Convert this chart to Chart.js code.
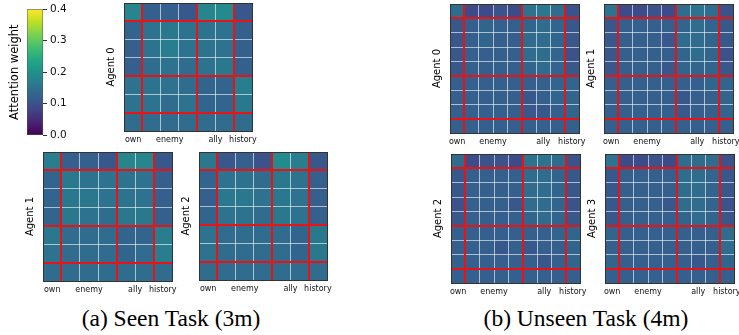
<!DOCTYPE html>
<html>
<head>
<meta charset="utf-8">
<script src="https://cdn.jsdelivr.net/npm/chart.js@4.4.1/dist/chart.umd.min.js"></script>
<style>
  html, body { margin: 0; padding: 0; background: #fff; overflow: hidden; }
  #fig { position: relative; width: 739px; height: 335px; overflow: hidden; }
  #fig canvas { position: absolute; }
  .cap {
    position: absolute; top: 305px; white-space: nowrap; color: #000;
    font-family: 'Liberation Serif', 'Times New Roman', serif; font-size: 23.5px; line-height: 26px;
    transform: translateX(-50%);
  }
</style>
</head>
<body>
<div id="fig">
  <div class="cap" style="left:171px">(a) Seen Task (3m)</div>
  <div class="cap" style="left:586px">(b) Unseen Task (4m)</div>
</div>
<script>
// token groups along both axes of each attention map
const groupLabels = ['own', 'enemy', 'ally', 'history'];
const seenGroupSizes = [1, 3, 2, 1];
const unseenGroupSizes = [1, 4, 3, 1];
const cbarTicks = [0.0, 0.1, 0.2, 0.3, 0.4];

// seen task (3m), 7x7 attention weights, row 0 at top
const seenAgent0 = [
  [0.18, 0.12, 0.12, 0.11, 0.18, 0.19, 0.11],
  [0.13, 0.15, 0.16, 0.15, 0.15, 0.15, 0.12],
  [0.12, 0.15, 0.17, 0.15, 0.15, 0.15, 0.12],
  [0.12, 0.14, 0.15, 0.14, 0.15, 0.16, 0.12],
  [0.15, 0.15, 0.15, 0.14, 0.13, 0.13, 0.17],
  [0.15, 0.15, 0.14, 0.15, 0.13, 0.13, 0.16],
  [0.14, 0.14, 0.14, 0.14, 0.14, 0.14, 0.14]
];
const seenAgent1 = [
  [0.17, 0.12, 0.12, 0.11, 0.18, 0.18, 0.11],
  [0.13, 0.16, 0.15, 0.15, 0.15, 0.15, 0.12],
  [0.13, 0.16, 0.16, 0.15, 0.15, 0.15, 0.12],
  [0.13, 0.16, 0.15, 0.14, 0.16, 0.16, 0.12],
  [0.16, 0.14, 0.14, 0.14, 0.13, 0.13, 0.17],
  [0.15, 0.14, 0.14, 0.14, 0.13, 0.14, 0.17],
  [0.14, 0.14, 0.14, 0.14, 0.14, 0.14, 0.14]
];
const seenAgent2 = [
  [0.16, 0.11, 0.12, 0.10, 0.19, 0.17, 0.11],
  [0.13, 0.15, 0.15, 0.14, 0.16, 0.15, 0.12],
  [0.12, 0.16, 0.16, 0.15, 0.16, 0.15, 0.12],
  [0.13, 0.15, 0.15, 0.14, 0.16, 0.15, 0.12],
  [0.15, 0.14, 0.14, 0.14, 0.14, 0.13, 0.16],
  [0.15, 0.14, 0.14, 0.14, 0.14, 0.13, 0.16],
  [0.14, 0.14, 0.14, 0.14, 0.14, 0.14, 0.14]
];

// unseen task (4m), 9x9
const unseenAgent0 = [
  [0.14, 0.09, 0.09, 0.10, 0.09, 0.15, 0.16, 0.14, 0.10],
  [0.11, 0.12, 0.13, 0.12, 0.12, 0.13, 0.14, 0.13, 0.11],
  [0.11, 0.12, 0.13, 0.12, 0.12, 0.14, 0.14, 0.13, 0.11],
  [0.11, 0.12, 0.12, 0.12, 0.12, 0.14, 0.14, 0.13, 0.10],
  [0.11, 0.12, 0.12, 0.12, 0.12, 0.13, 0.14, 0.13, 0.11],
  [0.12, 0.12, 0.12, 0.12, 0.12, 0.12, 0.12, 0.13, 0.13],
  [0.12, 0.12, 0.12, 0.12, 0.12, 0.11, 0.12, 0.13, 0.13],
  [0.12, 0.12, 0.12, 0.12, 0.12, 0.11, 0.11, 0.12, 0.13],
  [0.12, 0.12, 0.12, 0.12, 0.12, 0.12, 0.12, 0.12, 0.12]
];
const unseenAgent1 = [
  [0.15, 0.09, 0.09, 0.10, 0.09, 0.14, 0.15, 0.14, 0.10],
  [0.11, 0.12, 0.12, 0.12, 0.12, 0.13, 0.14, 0.13, 0.11],
  [0.11, 0.12, 0.12, 0.12, 0.11, 0.14, 0.14, 0.13, 0.11],
  [0.11, 0.12, 0.12, 0.12, 0.12, 0.13, 0.14, 0.13, 0.10],
  [0.11, 0.12, 0.12, 0.12, 0.11, 0.13, 0.13, 0.13, 0.11],
  [0.12, 0.12, 0.12, 0.12, 0.12, 0.12, 0.12, 0.13, 0.13],
  [0.12, 0.12, 0.12, 0.12, 0.12, 0.11, 0.12, 0.12, 0.13],
  [0.12, 0.12, 0.12, 0.12, 0.12, 0.11, 0.12, 0.12, 0.13],
  [0.12, 0.12, 0.12, 0.12, 0.12, 0.12, 0.12, 0.12, 0.12]
];
const unseenAgent2 = [
  [0.14, 0.09, 0.10, 0.10, 0.09, 0.15, 0.15, 0.14, 0.10],
  [0.11, 0.12, 0.12, 0.12, 0.12, 0.14, 0.14, 0.13, 0.11],
  [0.11, 0.12, 0.12, 0.12, 0.12, 0.14, 0.14, 0.13, 0.11],
  [0.10, 0.12, 0.12, 0.12, 0.11, 0.14, 0.14, 0.13, 0.10],
  [0.11, 0.12, 0.12, 0.12, 0.12, 0.13, 0.14, 0.13, 0.11],
  [0.12, 0.12, 0.12, 0.12, 0.12, 0.12, 0.12, 0.13, 0.13],
  [0.12, 0.12, 0.12, 0.11, 0.12, 0.11, 0.12, 0.12, 0.13],
  [0.12, 0.12, 0.12, 0.12, 0.12, 0.12, 0.11, 0.12, 0.13],
  [0.12, 0.12, 0.12, 0.12, 0.12, 0.12, 0.12, 0.12, 0.12]
];
const unseenAgent3 = [
  [0.15, 0.09, 0.09, 0.10, 0.09, 0.14, 0.14, 0.14, 0.10],
  [0.11, 0.12, 0.12, 0.12, 0.12, 0.14, 0.14, 0.13, 0.11],
  [0.11, 0.12, 0.12, 0.12, 0.12, 0.14, 0.14, 0.13, 0.11],
  [0.11, 0.12, 0.12, 0.12, 0.11, 0.14, 0.14, 0.13, 0.10],
  [0.11, 0.12, 0.12, 0.12, 0.12, 0.13, 0.14, 0.13, 0.11],
  [0.13, 0.12, 0.12, 0.12, 0.12, 0.12, 0.12, 0.12, 0.14],
  [0.12, 0.12, 0.12, 0.12, 0.12, 0.12, 0.12, 0.12, 0.14],
  [0.13, 0.12, 0.12, 0.12, 0.12, 0.12, 0.11, 0.12, 0.13],
  [0.12, 0.12, 0.12, 0.12, 0.12, 0.12, 0.12, 0.12, 0.12]
];

const VMIN = 0, VMAX = 0.4;
const VIRIDIS = ['#440154', '#482475', '#414487', '#355f8d', '#2a788e', '#21918c',
                 '#22a884', '#44bf70', '#7ad151', '#bddf26', '#fde725'];
const WHITE = 'rgba(255,255,255,0.6)';
const RED = '#ee1111';
const FRAME = '#333333';
const SANS = "'DejaVu Sans', sans-serif";

const hex = h => [1, 3, 5].map(i => parseInt(h.substr(i, 2), 16));
function viridis(v) {
  let t = Math.min(1, Math.max(0, (v - VMIN) / (VMAX - VMIN))) * (VIRIDIS.length - 1);
  const i = Math.min(VIRIDIS.length - 2, Math.floor(t));
  const f = t - i, a = hex(VIRIDIS[i]), b = hex(VIRIDIS[i + 1]);
  const c = a.map((x, k) => Math.round(x + (b[k] - x) * f));
  return `rgb(${c[0]},${c[1]},${c[2]})`;
}

const fig = document.getElementById('fig');

function addCanvas(left, top, w, h) {
  const c = document.createElement('canvas');
  c.width = w; c.height = h;
  c.style.left = left + 'px'; c.style.top = top + 'px';
  fig.appendChild(c);
  return c;
}

function makeHeatmap(p) {
  const n = p.values.length;
  const bounds = [], centers = [];
  let acc = 0;
  p.groups.forEach(g => { centers.push(acc + g / 2); acc += g; bounds.push(acc); });
  bounds.pop();

  const canvas = addCanvas(p.left - 20, p.top - 3, 20 + p.size + 12, 3 + p.size + 16);
  const inner = v => v > 0 && v < n;
  const frame = { color: FRAME, width: 1, z: 3 };

  return new Chart(canvas, {
    type: 'bar',
    data: {
      labels: p.values[0].map((_, c) => c),
      datasets: p.values.map(row => ({
        data: row.map(() => 1),
        backgroundColor: row.map(viridis),
        borderWidth: 0,
        barPercentage: 1,
        categoryPercentage: 1
      }))
    },
    options: {
      responsive: false,
      animation: false,
      layout: { padding: { top: 3, right: 12, bottom: 0, left: 0 } },
      plugins: { legend: { display: false }, tooltip: { enabled: false } },
      scales: {
        x: {
          type: 'category', position: 'top', stacked: true, offset: true,
          grid: { offset: true, drawTicks: false, lineWidth: 1, z: 1,
                  color: ctx => (ctx.index > 0 && ctx.index < n) ? WHITE : 'rgba(0,0,0,0)' },
          border: frame,
          ticks: { display: false, autoSkip: false },
          afterFit: s => { s.height = 0; }
        },
        xr: {
          type: 'linear', position: 'top', min: 0, max: n, offset: false,
          afterBuildTicks: s => { s.ticks = bounds.map(v => ({ value: v })); },
          grid: { offset: false, color: RED, lineWidth: 2, drawTicks: false, z: 2 },
          border: { display: false },
          ticks: { display: false },
          afterFit: s => { s.height = 0; }
        },
        xl: {
          type: 'linear', position: 'bottom', min: 0, max: n, offset: false,
          afterBuildTicks: s => { s.ticks = centers.map(v => ({ value: v })); },
          grid: { offset: false, display: false, drawTicks: false },
          border: { display: true, color: FRAME, width: 1, z: 3 },
          ticks: {
            autoSkip: false, maxRotation: 0, padding: 4, color: '#111',
            font: { family: SANS, size: 8 },
            callback: (v, i) => groupLabels[i]
          },
          afterFit: s => { s.height = 16; }
        },
        y: {
          type: 'linear', position: 'left', stacked: true, min: 0, max: n, reverse: true,
          ticks: { display: false, stepSize: 1 },
          grid: { drawTicks: false, lineWidth: 1, z: 1,
                  color: ctx => (ctx.tick && inner(ctx.tick.value)) ? WHITE : 'rgba(0,0,0,0)' },
          border: frame,
          title: { display: true, text: p.name, color: '#000',
                   font: { family: SANS, size: 10 }, padding: { top: 1, bottom: 0 } },
          afterFit: s => { s.width = 20; }
        },
        yr: {
          type: 'linear', position: 'right', min: 0, max: n, reverse: true,
          afterBuildTicks: s => { s.ticks = bounds.map(v => ({ value: v })); },
          grid: { color: RED, lineWidth: 2, drawTicks: false, z: 2 },
          border: frame,
          ticks: { display: false },
          afterFit: s => { s.width = 0; }
        }
      }
    }
  });
}

// colorbar
const cbarCanvas = addCanvas(0, 0, 75, 150);
new Chart(cbarCanvas, {
  type: 'bar',
  data: {
    labels: [''],
    datasets: [{
      data: [[cbarTicks[0], cbarTicks[cbarTicks.length - 1]]],
      backgroundColor: ctx => {
        const area = ctx.chart.chartArea;
        if (!area) return VIRIDIS[5];
        const g = ctx.chart.ctx.createLinearGradient(0, area.bottom, 0, area.top);
        VIRIDIS.forEach((c, i) => g.addColorStop(i / (VIRIDIS.length - 1), c));
        return g;
      },
      borderWidth: 0.8,
      borderColor: '#555',
      borderSkipped: false,
      barPercentage: 1,
      categoryPercentage: 1
    }]
  },
  options: {
    responsive: false,
    animation: false,
    layout: { padding: { top: 7, right: 0, bottom: 15, left: 0 } },
    plugins: { legend: { display: false }, tooltip: { enabled: false } },
    scales: {
      x: { display: false },
      yt: {
        position: 'left', min: VMIN, max: VMAX,
        ticks: { display: false }, grid: { display: false }, border: { display: false },
        title: { display: true, text: 'Attention weight', color: '#000',
                 font: { family: SANS, size: 11.5 }, padding: { top: 8, bottom: 0 } },
        afterFit: s => { s.width = 27; }
      },
      y: {
        position: 'right', min: VMIN, max: VMAX,
        afterBuildTicks: s => { s.ticks = cbarTicks.map(v => ({ value: v })); },
        ticks: { color: '#111', padding: 3, font: { family: SANS, size: 10.5 },
                 callback: v => v.toFixed(1) },
        grid: { drawOnChartArea: false, drawTicks: true, tickLength: 4, tickColor: '#333' },
        border: { display: false },
        afterFit: s => { s.width = 32; }
      }
    }
  }
});

const panels = [
  { name: 'Agent 0', values: seenAgent0, groups: seenGroupSizes, left: 124, top: 3, size: 128 },
  { name: 'Agent 1', values: seenAgent1, groups: seenGroupSizes, left: 43, top: 152, size: 129 },
  { name: 'Agent 2', values: seenAgent2, groups: seenGroupSizes, left: 199, top: 152, size: 128 },
  { name: 'Agent 0', values: unseenAgent0, groups: unseenGroupSizes, left: 450, top: 4, size: 129 },
  { name: 'Agent 1', values: unseenAgent1, groups: unseenGroupSizes, left: 604, top: 4, size: 129 },
  { name: 'Agent 2', values: unseenAgent2, groups: unseenGroupSizes, left: 451, top: 154, size: 129 },
  { name: 'Agent 3', values: unseenAgent3, groups: unseenGroupSizes, left: 605, top: 154, size: 129 }
];
panels.forEach(makeHeatmap);
</script>
</body>
</html>
